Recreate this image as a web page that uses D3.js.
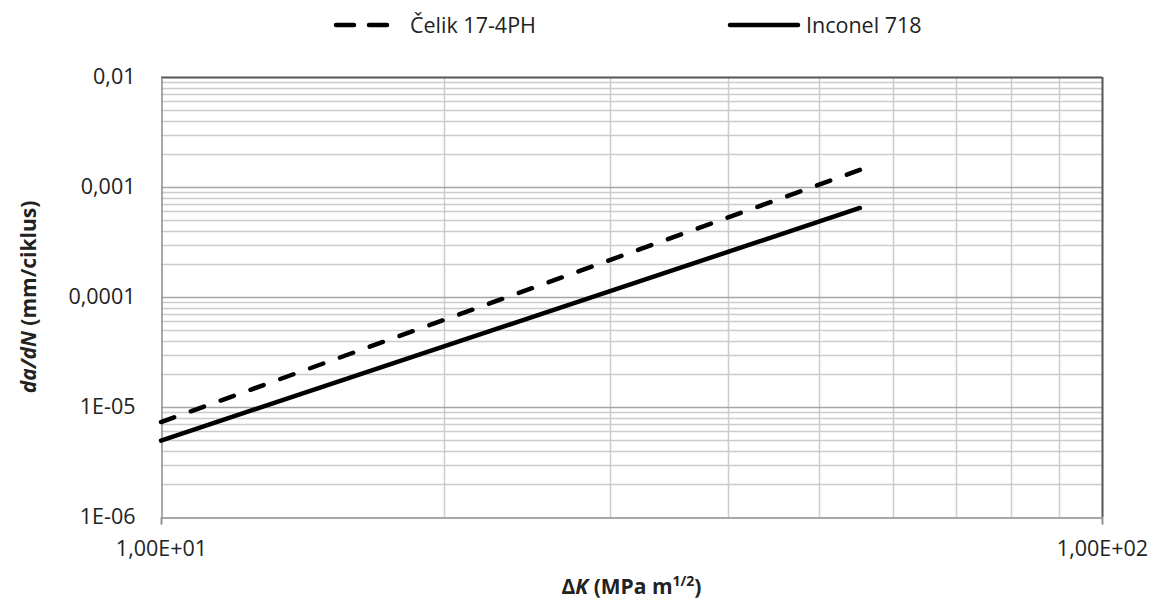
<!DOCTYPE html>
<html><head><meta charset="utf-8">
<script src="https://cdn.jsdelivr.net/npm/d3@7"></script>
<style>body{margin:0;background:#fff}text{font-family:"Open Sans",sans-serif;fill:#222}</style>
</head><body><svg id="c" width="1157" height="607"></svg>
<script>
const deltaK = [10, 55.3];
const celik = [7.3e-6, 1.43e-3];
const inconel = [4.95e-6, 6.45e-4];
const seriesNames = ["Čelik 17-4PH", "Inconel 718"];
const xTickValues = [10, 100];
const xTickLabels = ["1,00E+01", "1,00E+02"];
const yTickValues = [1e-6, 1e-5, 1e-4, 1e-3, 1e-2];
const yTickLabels = ["1E-06", "1E-05", "0,0001", "0,001", "0,01"];

const svg = d3.select("#c");
const L = 161, R = 1102, T = 77, B = 517;
const x = d3.scaleLog().domain([10, 100]).range([L, R]);
const y = d3.scaleLog().domain([1e-6, 1e-2]).range([B, T]);

const minorX = [];
for (let m = 2; m <= 9; m++) minorX.push(10 * m);
const minorY = [];
for (let e = -6; e < -2; e++) for (let m = 2; m <= 9; m++) minorY.push(m * Math.pow(10, e));

const g = svg.append("g");
g.selectAll(".gx").data(minorX).join("line")
  .attr("x1", d => Math.round(x(d)) + 0.5).attr("x2", d => Math.round(x(d)) + 0.5)
  .attr("y1", T).attr("y2", B).attr("stroke", "#cccccc").attr("stroke-width", 1.5);
g.selectAll(".gy").data(minorY).join("line")
  .attr("x1", L).attr("x2", R)
  .attr("y1", d => Math.round(y(d)) + 0.5).attr("y2", d => Math.round(y(d)) + 0.5)
  .attr("stroke", "#cccccc").attr("stroke-width", 1.5);
g.selectAll(".gmy").data(yTickValues.slice(1, -1)).join("line")
  .attr("x1", L).attr("x2", R)
  .attr("y1", d => Math.round(y(d)) + 0.5).attr("y2", d => Math.round(y(d)) + 0.5)
  .attr("stroke", "#a6a6a6").attr("stroke-width", 1.5);

g.append("line").attr("x1", L).attr("x2", R).attr("y1", T + 0.5).attr("y2", T + 0.5).attr("stroke", "#555").attr("stroke-width", 2);
g.append("line").attr("x1", R + 0.5).attr("x2", R + 0.5).attr("y1", T).attr("y2", B).attr("stroke", "#555").attr("stroke-width", 2);

const xAxis = d3.axisBottom(x).tickValues(xTickValues).tickFormat((d, i) => xTickLabels[i]).tickSize(7).tickPadding(16);
const gx = svg.append("g").attr("transform", `translate(0,${B + 0.5})`).call(xAxis);
gx.select(".domain").attr("stroke", "#8c8c8c").attr("stroke-width", 1.5);
gx.selectAll(".tick line").attr("stroke", "#8c8c8c").attr("stroke-width", 1.5);
gx.selectAll("text").style("font-size", "21.5px").attr("fill", "#222");

const yAxis = d3.axisLeft(y).tickValues(yTickValues).tickFormat((d, i) => yTickLabels[i]).tickSize(0).tickPadding(26);
const gy = svg.append("g").attr("transform", `translate(${L + 0.5},0)`).call(yAxis);
gy.select(".domain").attr("stroke", "#8c8c8c").attr("stroke-width", 1.5);
gy.selectAll("text").style("font-size", "21.5px").attr("fill", "#222");

const line = d3.line().x(d => x(d[0])).y(d => y(d[1]));
svg.append("path").datum(deltaK.map((k, i) => [k, celik[i]])).attr("d", line)
  .attr("fill", "none").attr("stroke", "#000").attr("stroke-width", 4.5)
  .attr("stroke-linecap", "round").attr("stroke-dasharray", "14,17.7");
svg.append("path").datum(deltaK.map((k, i) => [k, inconel[i]])).attr("d", line)
  .attr("fill", "none").attr("stroke", "#000").attr("stroke-width", 4.5)
  .attr("stroke-linecap", "round");

const leg = svg.append("g");
leg.append("line").attr("x1", 336).attr("x2", 387).attr("y1", 25).attr("y2", 25)
  .attr("stroke", "#000").attr("stroke-width", 4.5).attr("stroke-linecap", "round").attr("stroke-dasharray", "18,15");
leg.append("text").attr("x", 410).attr("y", 25).attr("dy", "0.35em").style("font-size", "21.5px").text(seriesNames[0]);
leg.append("line").attr("x1", 730).attr("x2", 798).attr("y1", 25).attr("y2", 25)
  .attr("stroke", "#000").attr("stroke-width", 4.5).attr("stroke-linecap", "round");
leg.append("text").attr("x", 806).attr("y", 25).attr("dy", "0.35em").style("font-size", "21.5px").text(seriesNames[1]);

const xt = svg.append("text").attr("x", (L + R) / 2).attr("y", 594).attr("text-anchor", "middle")
  .style("font-size", "21px").style("font-weight", "bold");
xt.append("tspan").text("Δ");
xt.append("tspan").style("font-style", "italic").text("K");
xt.append("tspan").text(" (MPa m");
xt.append("tspan").attr("dy", -8).style("font-size", "14px").text("1/2");
xt.append("tspan").attr("dy", 8).text(")");

const yt = svg.append("text").attr("transform", `translate(36,${(T + B) / 2}) rotate(-90)`).attr("text-anchor", "middle")
  .style("font-size", "21px").style("font-weight", "bold");
yt.append("tspan").style("font-style", "italic").text("da/dN");
yt.append("tspan").text(" (mm/ciklus)");
</script></body></html>
